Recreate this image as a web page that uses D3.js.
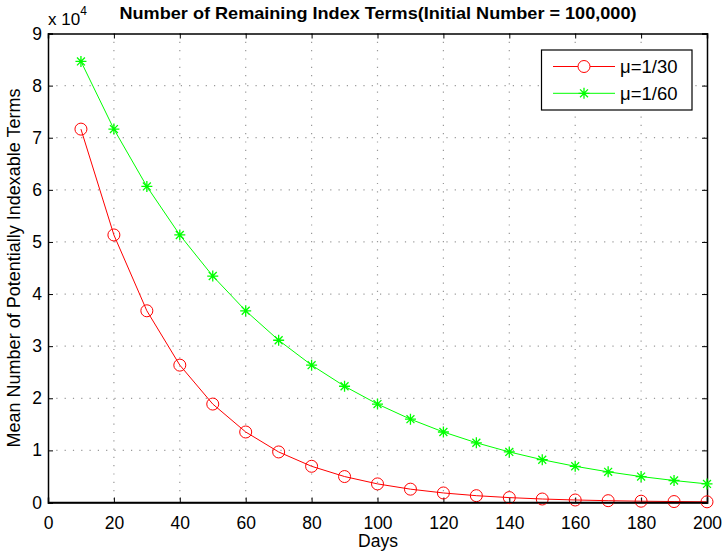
<!DOCTYPE html>
<html>
<head>
<meta charset="utf-8">
<script src="https://cdn.jsdelivr.net/npm/d3@7"></script>
<style>
  body { margin: 0; background: #fff; }
  text { font-family: "Liberation Sans", Arial, sans-serif; }
</style>
</head>
<body>
<div id="chart"></div>
<script>
var days = [10, 20, 30, 40, 50, 60, 70, 80, 90, 100, 110, 120, 130, 140, 150, 160, 170, 180, 190, 200];
var mu30 = [71650, 51340, 36790, 26360, 18890, 13530, 9700, 6950, 4980, 3570, 2560, 1830, 1310, 940, 670, 480, 350, 250, 180, 130];
var mu60 = [84650, 71650, 60650, 51340, 43460, 36790, 31140, 26360, 22310, 18890, 15990, 13530, 11460, 9700, 8210, 6950, 5880, 4980, 4220, 3570];
var xTicks = [0, 20, 40, 60, 80, 100, 120, 140, 160, 180, 200];
var yTicks = [0, 1, 2, 3, 4, 5, 6, 7, 8, 9];
var seriesNames = ["\u03bc=1/30", "\u03bc=1/60"];

(function () {
	var svgwidth = 722;
	var svgheight = 554;
	var left = 48, right = 707, top = 33.5, bottom = 502.5;

	var svg = d3.select("#chart")
		.append("svg")
		.attr("width", svgwidth)
		.attr("height", svgheight);

	var xScale = d3.scaleLinear().domain([0, 200]).range([left, right]);
	var yScale = d3.scaleLinear().domain([0, 90000]).range([bottom, top]);

	// grid
	var grid = svg.append("g").attr("class", "grid");
	grid.selectAll("line.gx")
		.data(xTicks.slice(1, -1))
		.enter()
		.append("line")
		.attr("x1", function (d) { return xScale(d); })
		.attr("x2", function (d) { return xScale(d); })
		.attr("y1", top)
		.attr("y2", bottom)
		.attr("stroke", "#999")
		.attr("stroke-width", 1.2)
		.attr("stroke-dasharray", "1.2,7.1");
	grid.selectAll("line.gy")
		.data(yTicks.slice(1, -1))
		.enter()
		.append("line")
		.attr("y1", function (d) { return yScale(d * 10000); })
		.attr("y2", function (d) { return yScale(d * 10000); })
		.attr("x1", left)
		.attr("x2", right)
		.attr("stroke", "#999")
		.attr("stroke-width", 1.2)
		.attr("stroke-dasharray", "1.2,7.1");

	// axes, MATLAB style with inward ticks on all sides
	svg.append("g")
		.attr("transform", "translate(0," + bottom + ")")
		.call(d3.axisBottom(xScale).tickValues(xTicks).tickSize(-5).tickPadding(14))
		.call(styleAxis);
	svg.append("g")
		.attr("transform", "translate(0," + top + ")")
		.call(d3.axisTop(xScale).tickValues(xTicks).tickSize(-5).tickFormat(""))
		.call(styleAxis);
	svg.append("g")
		.attr("transform", "translate(" + left + ",0)")
		.call(d3.axisLeft(yScale).tickValues(yTicks.map(function (d) { return d * 10000; }))
			.tickSize(-5).tickPadding(6).tickFormat(function (d) { return d / 10000; }))
		.call(styleAxis);
	svg.append("g")
		.attr("transform", "translate(" + right + ",0)")
		.call(d3.axisRight(yScale).tickValues(yTicks.map(function (d) { return d * 10000; }))
			.tickSize(-5).tickFormat(""))
		.call(styleAxis);

	function styleAxis(g) {
		g.select(".domain").attr("stroke", "#000").attr("stroke-width", 1.5);
		g.selectAll(".tick line").attr("stroke", "#000");
		g.selectAll(".tick text")
			.attr("fill", "#000")
			.style("font-size", "17.5px")
			.style("font-family", "'Liberation Sans', Arial, sans-serif");
	}

	var line = d3.line()
		.x(function (d) { return xScale(d[0]); })
		.y(function (d) { return yScale(d[1]); });

	var redData = days.map(function (d, i) { return [d, mu30[i]]; });
	var greenData = days.map(function (d, i) { return [d, mu60[i]]; });

	svg.append("path")
		.datum(redData)
		.attr("d", line)
		.attr("fill", "none")
		.attr("stroke", "#ff0000")
		.attr("stroke-width", 1);
	svg.append("path")
		.datum(greenData)
		.attr("d", line)
		.attr("fill", "none")
		.attr("stroke", "#00ff00")
		.attr("stroke-width", 1);

	svg.selectAll("circle.m30")
		.data(redData)
		.enter()
		.append("circle")
		.attr("cx", function (d) { return xScale(d[0]); })
		.attr("cy", function (d) { return yScale(d[1]); })
		.attr("r", 6)
		.attr("fill", "none")
		.attr("stroke", "#ff0000")
		.attr("stroke-width", 1);

	function star(g, x, y) {
		var s = 5.5;
		var d = s * 0.72;
		g.append("path")
			.attr("d", "M" + (x - s) + "," + y + "H" + (x + s) +
				"M" + x + "," + (y - s) + "V" + (y + s) +
				"M" + (x - d) + "," + (y - d) + "L" + (x + d) + "," + (y + d) +
				"M" + (x - d) + "," + (y + d) + "L" + (x + d) + "," + (y - d))
			.attr("stroke", "#00ff00")
			.attr("stroke-width", 1.3)
			.attr("fill", "none");
	}
	var stars = svg.append("g");
	greenData.forEach(function (d) {
		star(stars, xScale(d[0]), yScale(d[1]));
	});

	// redraw the bottom axis line over the markers
	svg.append("line")
		.attr("x1", left).attr("x2", right)
		.attr("y1", bottom).attr("y2", bottom)
		.attr("stroke", "#000").attr("stroke-width", 1.5);

	// legend
	var lg = svg.append("g");
	lg.append("rect")
		.attr("x", 541.5).attr("y", 50)
		.attr("width", 150.5).attr("height", 60)
		.attr("fill", "#fff")
		.attr("stroke", "#000")
		.attr("stroke-width", 1.2);
	[0, 1].forEach(function (i) {
		var y = 66.5 + i * 26.8;
		var color = i === 0 ? "#ff0000" : "#00ff00";
		lg.append("line")
			.attr("x1", 553).attr("x2", 615)
			.attr("y1", y).attr("y2", y)
			.attr("stroke", color).attr("stroke-width", 1);
		if (i === 0) {
			lg.append("circle")
				.attr("cx", 584).attr("cy", y).attr("r", 6)
				.attr("fill", "#fff").attr("stroke", color);
		} else {
			star(lg, 584, y);
		}
		lg.append("text")
			.attr("x", 620).attr("y", y + 6.5)
			.style("font-size", "18.5px")
			.text(seriesNames[i]);
	});

	// title and labels (title font in the original renders wider than Liberation)
	svg.append("text")
		.attr("x", 119.5).attr("y", 18.5)
		.attr("textLength", 517)
		.attr("lengthAdjust", "spacingAndGlyphs")
		.style("font-size", "16.5px")
		.style("font-weight", "bold")
		.text("Number of Remaining Index Terms(Initial Number = 100,000)");

	var exp = svg.append("text")
		.attr("x", 48).attr("y", 24.5)
		.style("font-size", "17px");
	exp.append("tspan").text("x 10");
	exp.append("tspan").attr("dy", -10).style("font-size", "12px").text("4");

	svg.append("text")
		.attr("x", 378).attr("y", 547)
		.attr("text-anchor", "middle")
		.style("font-size", "17.5px")
		.text("Days");

	svg.append("text")
		.attr("transform", "translate(20," + ((top + bottom) / 2) + ") rotate(-90)")
		.attr("text-anchor", "middle")
		.style("font-size", "18px")
		.text("Mean Number of Potentially Indexable Terms");
})();
</script>
</body>
</html>
